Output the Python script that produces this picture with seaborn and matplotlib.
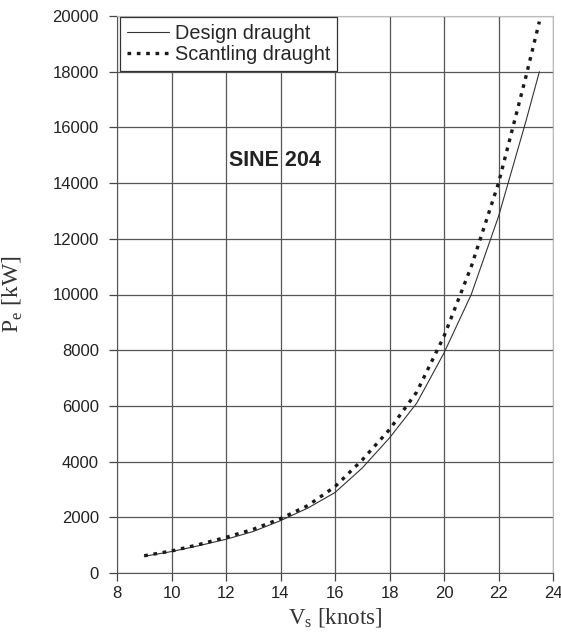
import pandas as pd
import seaborn as sns
import matplotlib
matplotlib.use('Agg')
import matplotlib.pyplot as plt
from matplotlib.lines import Line2D

# speeds [knots] and effective power [kW]
speed_design = [9, 10, 11, 12, 13, 14, 15, 16, 17, 18, 19, 20, 21, 22, 23, 23.5]
power_design = [600, 770, 980, 1210, 1490, 1880, 2330, 2890, 3770, 4850,
                6100, 7900, 10000, 12800, 16200, 18000]
speed_scant = [9, 10, 11, 12, 13, 14, 15, 16, 17, 18, 19, 20, 21, 22, 23, 23.5]
power_scant = [620, 790, 1020, 1280, 1570, 1950, 2420, 3100, 4060, 5150,
               6500, 8500, 11000, 14000, 17800, 19800]

x_ticks = [8, 10, 12, 14, 16, 18, 20, 22, 24]
y_ticks = list(range(0, 20001, 2000))

df = pd.concat([
    pd.DataFrame({"Vs": speed_design, "Pe": power_design, "case": "Design draught"}),
    pd.DataFrame({"Vs": speed_scant, "Pe": power_scant, "case": "Scantling draught"}),
])

DOTS = (1.1, 1.7)

sns.set_style("ticks")
plt.rcParams['font.family'] = ['Liberation Sans', 'DejaVu Sans']

fig = plt.figure(figsize=(5.61, 6.37), dpi=100)
ax = fig.add_axes([117 / 561, 1 - 573 / 637, (553 - 117) / 561, (573 - 16) / 637])

sns.lineplot(data=df, x="Vs", y="Pe", hue="case", style="case",
             palette={"Design draught": "#333333", "Scantling draught": "#1a1a1a"},
             dashes={"Design draught": "", "Scantling draught": DOTS},
             size="case", sizes={"Design draught": 0.8, "Scantling draught": 2.4},
             ax=ax, legend=False)

ax.set_xlim(8, 24)
ax.set_ylim(0, 20000)
ax.set_xticks(x_ticks)
ax.set_yticks(y_ticks)
ax.grid(True, color="#555555", linewidth=0.9)
ax.tick_params(axis='both', labelsize=12, colors="#444444", length=6, width=0.9,
               labelcolor="#222222")
ax.tick_params(axis='y', pad=7)
ax.tick_params(axis='x', pad=3)
for s in ["left", "bottom"]:
    ax.spines[s].set_color("#555555")
for s in ["top", "right"]:
    ax.spines[s].set_visible(True)
    ax.spines[s].set_color("#bbbbbb")

ax.set_xlabel(r"V$_\mathregular{s}$ [knots]", family="Liberation Serif", fontsize=16.5,
              color="#333333", labelpad=4)
ax.set_ylabel(r"P$_\mathregular{e}$ [kW]", family="Liberation Serif", fontsize=17,
              color="#333333", labelpad=20)

ax.text(13.8, 14800, "SINE 204", fontsize=15.5, fontweight='bold', ha='center',
        va='center', color="#222222")

handles = [Line2D([], [], color="#333333", lw=0.8),
           Line2D([], [], color="#1a1a1a", lw=2.4, dashes=DOTS)]
leg = ax.legend(handles, ["Design draught", "Scantling draught"], loc='upper left',
                bbox_to_anchor=(0.007, 0.998), fontsize=14.3, frameon=True, fancybox=False,
                framealpha=1, edgecolor="#333333", borderpad=0.35, labelspacing=0.12,
                handlelength=2.1, handletextpad=0.3, borderaxespad=0)
leg.get_frame().set_linewidth(0.9)

fig.savefig("out.png", dpi=100)
